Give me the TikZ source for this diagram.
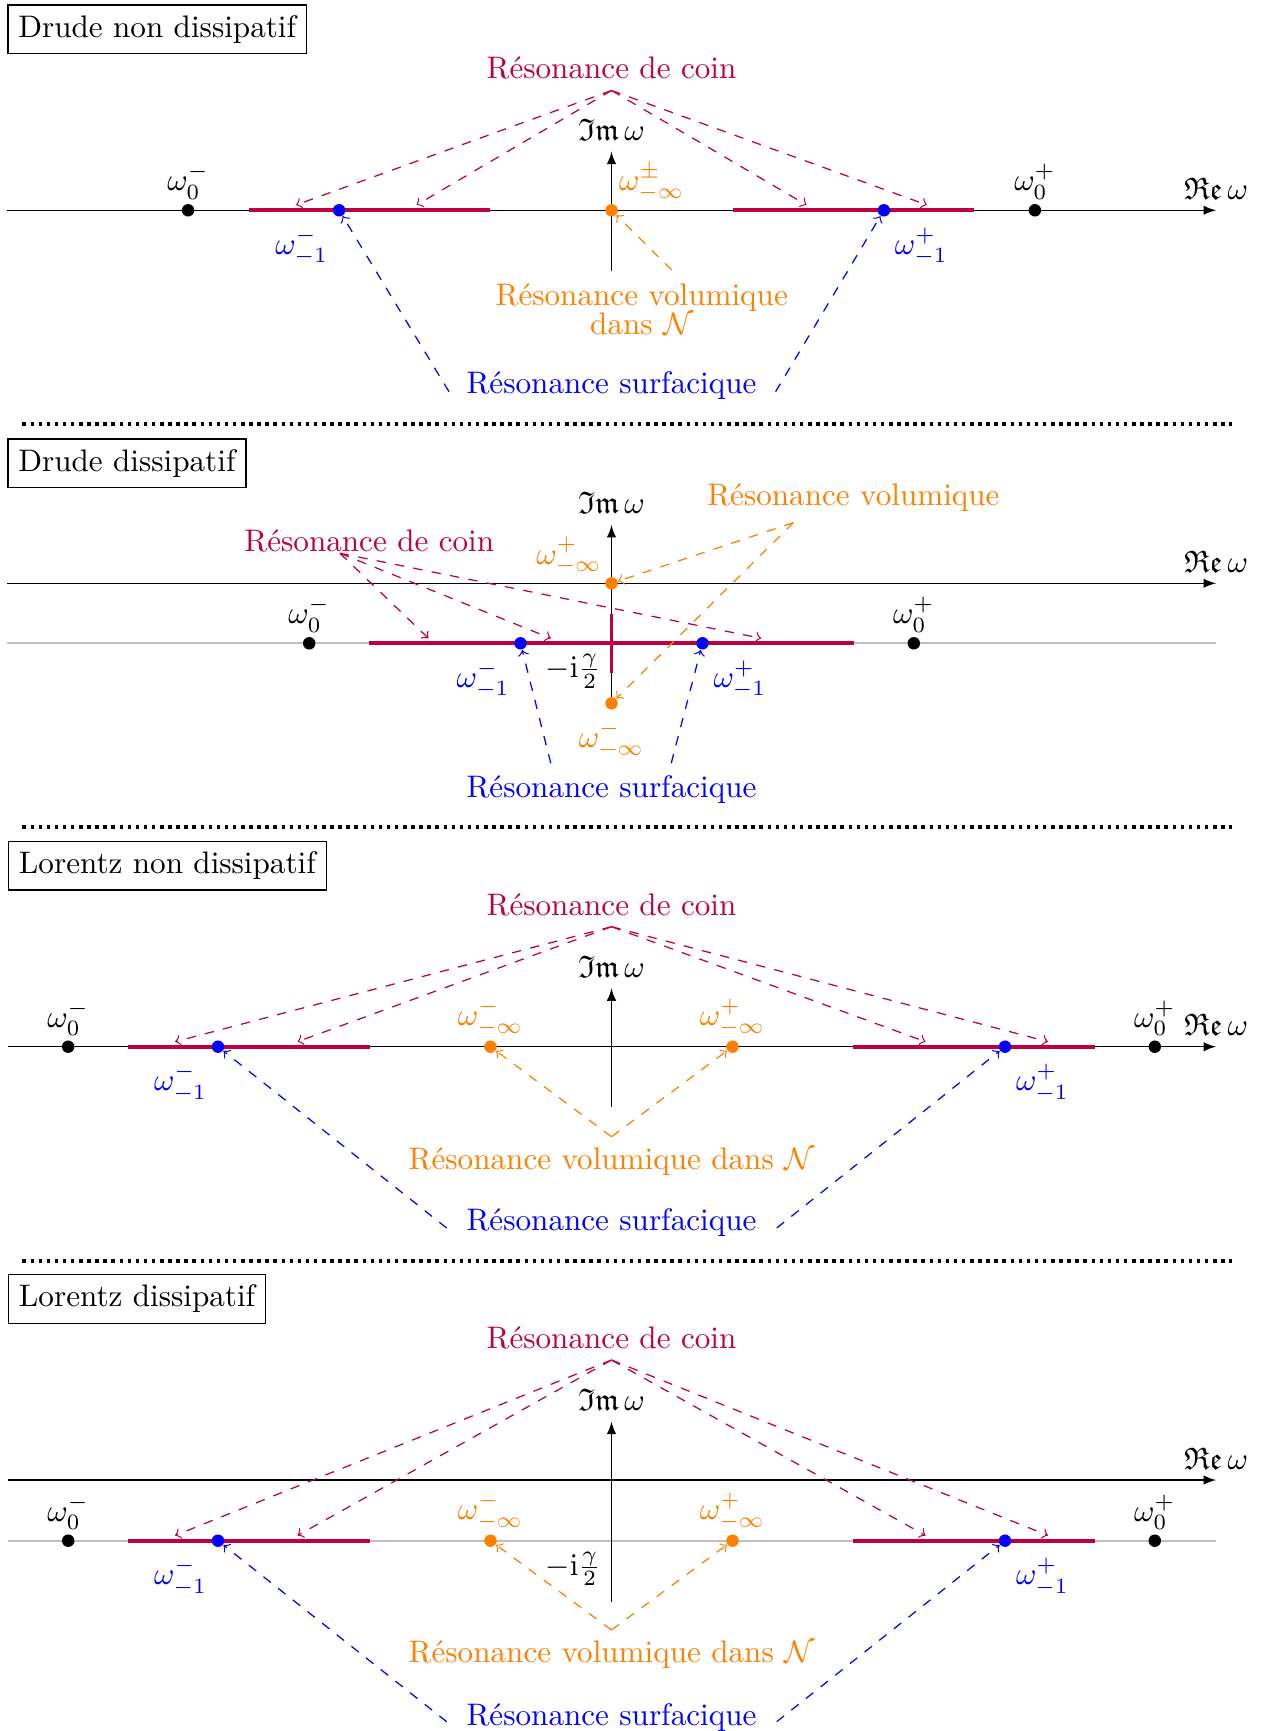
\documentclass[tikz,border=0pt]{standalone}
\usepackage{amssymb}
\definecolor{coin}{rgb}{0.75,0,0.25}
\begin{document}
\begin{tikzpicture}[x=0.321pt,y=-0.321pt,
  ax/.style={line width=0.4pt,-latex},
  gline/.style={line width=0.6pt,draw=lightgray},
  seg/.style={line width=1.2pt,draw=coin},
  dotnode/.style={circle,inner sep=0pt,minimum size=4pt},
  pblack/.style={dotnode,fill=black},
  pblue/.style={dotnode,fill=blue},
  porange/.style={dotnode,fill=orange},
  carr/.style={->,dashed,draw=coin},
  oarr/.style={->,dashed,draw=orange},
  barr/.style={->,dashed,draw=blue},
  ttl/.style={draw,anchor=north west,inner sep=3.33pt},
  sepline/.style={line width=1.1pt,dash pattern=on 1.1pt off 1.5pt},
  ctext/.style={text=coin},
  otext/.style={text=orange},
  btext/.style={text=blue},
  lab/.style={anchor=south},
  lbl/.style={anchor=north east,yshift=-2pt},
  lbr/.style={anchor=north west,yshift=-2pt},
]
\useasboundingbox (0,0) rectangle (1262,1731);

% ================= Panel 1 : Drude non dissipatif
\node[ttl] (t1) at (7.3,4.3) {Drude non dissipatif};
\coordinate (re1a) at (7.3,210.3); \coordinate (re1b) at (1216,210.3);
\coordinate (im1a) at (611.5,270.7); \coordinate (im1b) at (611.5,151.7);
\draw[ax] (re1a) -- (re1b);
\draw[ax] (im1a) -- (im1b);
\node[lab] (re1l) at (re1b) {$\mathfrak{Re}\,\omega$};
\node[lab] (im1l) at (im1b) {$\mathfrak{Im}\,\omega$};
\coordinate (s1a) at (249,210.3); \coordinate (s1b) at (490,210.3);
\coordinate (s1c) at (733,210.3); \coordinate (s1d) at (974,210.3);
\draw[seg] (s1a) -- (s1b);
\draw[seg] (s1c) -- (s1d);
\node[pblack] (p1a) at (188.1,210.3) {};
\node[pblack] (p1b) at (1034.9,210.3) {};
\node[pblue] (p1c) at (339.1,210.3) {};
\node[pblue] (p1d) at (883.9,210.3) {};
\node[porange] (p1e) at (611.5,210.3) {};
\node[lab] (l1a) at (p1a.center) {$\omega_0^-$};
\node[lab] (l1b) at (p1b.center) {$\omega_0^+$};
\node[lbl,btext] (l1c) at (p1c.center) {$\omega_{-1}^-$};
\node[lbr,btext] (l1d) at (p1d.center) {$\omega_{-1}^+$};
\node[otext] (l1e) at (651.7,182.5) {$\omega_{-\infty}^{\pm}$};
\node[ctext,anchor=south] (c1) at (611.5,90.5) {Résonance de coin};
\coordinate (c1t1) at (296,205); \coordinate (c1t2) at (416.5,205);
\coordinate (c1t3) at (806.5,205); \coordinate (c1t4) at (927,205);
\draw[carr] (c1.south) -- (c1t1);
\draw[carr] (c1.south) -- (c1t2);
\draw[carr] (c1.south) -- (c1t3);
\draw[carr] (c1.south) -- (c1t4);
\node[otext,align=center,anchor=north] (v1) at (641.7,273) {Résonance volumique\\[-2.8pt]dans $\mathcal{N}$};
\coordinate (v1s) at (671.7,270);
\draw[oarr] (v1s) -- (p1e);
\node[btext,anchor=base] (b1) at (611.5,394) {Résonance surfacique};
\coordinate (b1l) at (449,391.7); \coordinate (b1r) at (775.6,391.7);
\draw[barr] (b1l) -- (p1c);
\draw[barr] (b1r) -- (p1d);

\coordinate (d1a) at (22.4,424); \coordinate (d1b) at (1232,424);
\draw[sepline] (d1a) -- (d1b);

% ================= Panel 2 : Drude dissipatif
\node[ttl] (t2) at (7.3,438.3) {Drude dissipatif};
\coordinate (g2a) at (7.3,643.3); \coordinate (g2b) at (1216,643.3);
\draw[gline] (g2a) -- (g2b);
\coordinate (re2a) at (7.3,583.3); \coordinate (re2b) at (1216,583.3);
\coordinate (im2a) at (611.5,703.3); \coordinate (im2b) at (611.5,525);
\draw[ax] (re2a) -- (re2b);
\draw[ax] (im2a) -- (im2b);
\node[lab] (re2l) at (re2b) {$\mathfrak{Re}\,\omega$};
\node[lab] (im2l) at (im2b) {$\mathfrak{Im}\,\omega$};
\coordinate (s2a) at (369.3,643.3); \coordinate (s2b) at (853.7,643.3);
\coordinate (s2c) at (611.5,613.8); \coordinate (s2d) at (611.5,672.8);
\draw[seg] (s2a) -- (s2b);
\draw[seg] (s2c) -- (s2d);
\coordinate (g2o) at (611.5,643.3);
\node[pblack] (p2a) at (309.2,643.3) {};
\node[pblack] (p2b) at (913.8,643.3) {};
\node[pblue] (p2c) at (520.5,643.3) {};
\node[pblue] (p2d) at (702.5,643.3) {};
\node[porange] (p2e) at (611.5,583.3) {};
\node[porange] (p2f) at (611.5,703.3) {};
\node[lab] (l2a) at (p2a.center) {$\omega_0^-$};
\node[lab] (l2b) at (p2b.center) {$\omega_0^+$};
\node[lbl,btext] (l2c) at (p2c.center) {$\omega_{-1}^-$};
\node[lbr,btext] (l2d) at (p2d.center) {$\omega_{-1}^+$};
\node[otext] (l2e) at (569,555.8) {$\omega_{-\infty}^{+}$};
\node[anchor=north,otext] (l2f) at (p2f.south) {$\omega_{-\infty}^{-}$};
\node[anchor=north east] (l2g) at (g2o) {$-\mathrm{i}\frac{\gamma}{2}$};
\node[ctext,anchor=base] (c2) at (369.3,551.7) {Résonance de coin};
\coordinate (c2s) at (340,553.3);
\coordinate (c2t1) at (428.4,638.3); \coordinate (c2t2) at (550.8,638.3);
\coordinate (c2t3) at (761.2,638.3);
\draw[carr] (c2s) -- (c2t1);
\draw[carr] (c2s) -- (c2t2);
\draw[carr] (c2s) -- (c2t3);
\node[otext,anchor=base] (v2) at (853.4,506) {Résonance volumique};
\coordinate (v2s) at (793.3,522.7);
\draw[oarr] (v2s) -- (p2e);
\draw[oarr] (v2s) -- (p2f);
\node[btext,anchor=base] (b2) at (611.5,797) {Résonance surfacique};
\coordinate (b2l) at (550.8,763.3); \coordinate (b2r) at (671.2,763.3);
\draw[barr] (b2l) -- (p2c);
\draw[barr] (b2r) -- (p2d);

\coordinate (d2a) at (22.4,827); \coordinate (d2b) at (1232,827);
\draw[sepline] (d2a) -- (d2b);

% ================= Panel 3 : Lorentz non dissipatif
\node[ttl] (t3) at (8,840.7) {Lorentz non dissipatif};
\coordinate (re3a) at (8,1046.7); \coordinate (re3b) at (1216,1046.7);
\coordinate (im3a) at (611.5,1106.7); \coordinate (im3b) at (611.5,988.3);
\draw[ax] (re3a) -- (re3b);
\draw[ax] (im3a) -- (im3b);
\node[lab] (re3l) at (re3b) {$\mathfrak{Re}\,\omega$};
\node[lab] (im3l) at (im3b) {$\mathfrak{Im}\,\omega$};
\coordinate (s3a) at (128,1046.7); \coordinate (s3b) at (370,1046.7);
\coordinate (s3c) at (853,1046.7); \coordinate (s3d) at (1095,1046.7);
\draw[seg] (s3a) -- (s3b);
\draw[seg] (s3c) -- (s3d);
\node[pblack] (p3a) at (68.2,1046.7) {};
\node[pblack] (p3b) at (1154.8,1046.7) {};
\node[pblue] (p3c) at (218,1046.7) {};
\node[pblue] (p3d) at (1005,1046.7) {};
\node[porange] (p3e) at (490.5,1046.7) {};
\node[porange] (p3f) at (732.5,1046.7) {};
\node[lab] (l3a) at (p3a.center) {$\omega_0^-$};
\node[lab] (l3b) at (p3b.center) {$\omega_0^+$};
\node[lbl,btext] (l3c) at (p3c.center) {$\omega_{-1}^-$};
\node[lbr,btext] (l3d) at (p3d.center) {$\omega_{-1}^+$};
\node[lab,otext] (l3e) at (p3e.center) {$\omega_{-\infty}^{-}$};
\node[lab,otext] (l3f) at (p3f.center) {$\omega_{-\infty}^{+}$};
\node[ctext,anchor=south] (c3) at (611.5,926.7) {Résonance de coin};
\coordinate (c3t1) at (175,1041.7); \coordinate (c3t2) at (297.5,1041.7);
\coordinate (c3t3) at (925.5,1041.7); \coordinate (c3t4) at (1048,1041.7);
\draw[carr] (c3.south) -- (c3t1);
\draw[carr] (c3.south) -- (c3t2);
\draw[carr] (c3.south) -- (c3t3);
\draw[carr] (c3.south) -- (c3t4);
\node[otext,anchor=north] (v3) at (611.5,1136.7) {Résonance volumique dans $\mathcal{N}$};
\draw[oarr] (v3.north) -- (p3e);
\draw[oarr] (v3.north) -- (p3f);
\node[btext,anchor=base] (b3) at (611.5,1230) {Résonance surfacique};
\coordinate (b3l) at (446.7,1228); \coordinate (b3r) at (776.7,1228);
\draw[barr] (b3l) -- (p3c);
\draw[barr] (b3r) -- (p3d);

\coordinate (d3a) at (22.4,1261); \coordinate (d3b) at (1232,1261);
\draw[sepline] (d3a) -- (d3b);

% ================= Panel 4 : Lorentz dissipatif
\node[ttl] (t4) at (8,1274) {Lorentz dissipatif};
\coordinate (g4a) at (8,1540.7); \coordinate (g4b) at (1216,1540.7);
\draw[gline] (g4a) -- (g4b);
\coordinate (re4a) at (8,1480); \coordinate (re4b) at (1216,1480);
\coordinate (im4a) at (611.5,1601.7); \coordinate (im4b) at (611.5,1421.7);
\draw[ax] (re4a) -- (re4b);
\draw[ax] (im4a) -- (im4b);
\node[lab] (re4l) at (re4b) {$\mathfrak{Re}\,\omega$};
\node[lab] (im4l) at (im4b) {$\mathfrak{Im}\,\omega$};
\coordinate (s4a) at (128,1540.7); \coordinate (s4b) at (370,1540.7);
\coordinate (s4c) at (853,1540.7); \coordinate (s4d) at (1095,1540.7);
\draw[seg] (s4a) -- (s4b);
\draw[seg] (s4c) -- (s4d);
\coordinate (g4o) at (611.5,1540.7);
\node[pblack] (p4a) at (68.2,1540.7) {};
\node[pblack] (p4b) at (1154.8,1540.7) {};
\node[pblue] (p4c) at (218,1540.7) {};
\node[pblue] (p4d) at (1005,1540.7) {};
\node[porange] (p4e) at (490.5,1540.7) {};
\node[porange] (p4f) at (732.5,1540.7) {};
\node[lab] (l4a) at (p4a.center) {$\omega_0^-$};
\node[lab] (l4b) at (p4b.center) {$\omega_0^+$};
\node[lbl,btext] (l4c) at (p4c.center) {$\omega_{-1}^-$};
\node[lbr,btext] (l4d) at (p4d.center) {$\omega_{-1}^+$};
\node[lab,otext] (l4e) at (p4e.center) {$\omega_{-\infty}^{-}$};
\node[lab,otext] (l4f) at (p4f.center) {$\omega_{-\infty}^{+}$};
\node[anchor=north east] (l4g) at (g4o) {$-\mathrm{i}\frac{\gamma}{2}$};
\node[ctext,anchor=south] (c4) at (611.5,1360) {Résonance de coin};
\coordinate (c4t1) at (175,1535.5); \coordinate (c4t2) at (297.5,1535.5);
\coordinate (c4t3) at (925.5,1535.5); \coordinate (c4t4) at (1048,1535.5);
\draw[carr] (c4.south) -- (c4t1);
\draw[carr] (c4.south) -- (c4t2);
\draw[carr] (c4.south) -- (c4t3);
\draw[carr] (c4.south) -- (c4t4);
\node[otext,anchor=north] (v4) at (611.5,1630) {Résonance volumique dans $\mathcal{N}$};
\draw[oarr] (v4.north) -- (p4e);
\draw[oarr] (v4.north) -- (p4f);
\node[btext,anchor=base] (b4) at (611.5,1725) {Résonance surfacique};
\coordinate (b4l) at (446.7,1721.7); \coordinate (b4r) at (776.7,1721.7);
\draw[barr] (b4l) -- (p4c);
\draw[barr] (b4r) -- (p4d);
\end{tikzpicture}
\end{document}
